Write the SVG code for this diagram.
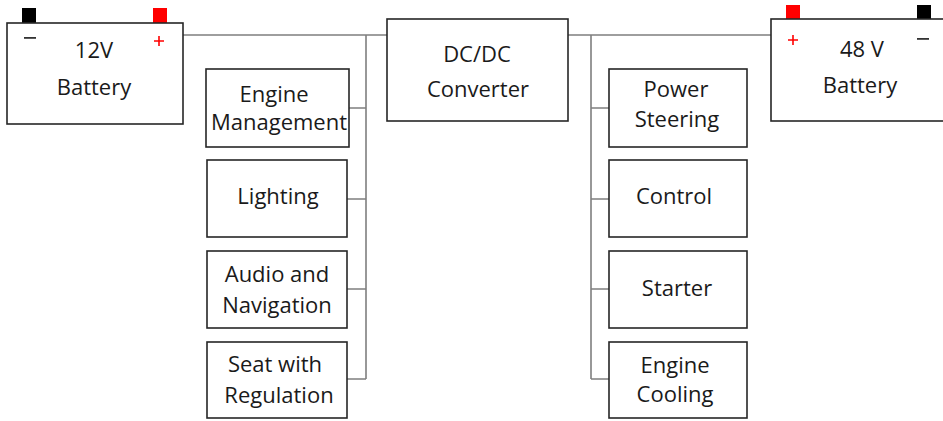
<svg xmlns="http://www.w3.org/2000/svg" width="943" height="421" viewBox="0 0 943 421">
<style>
.box{fill:#fff;stroke:#262626;stroke-width:1.6}
.wire{fill:none;stroke:#7f7f7f;stroke-width:1.6}
text{font-family:"Open Sans","Noto Sans",sans-serif;font-size:22px;fill:#1a1a1a;text-anchor:middle}
.pos{fill:#ff0000}
.neg{fill:#000}
</style>
<rect width="943" height="421" fill="#fff"/>
<g id="connectors">
<path class="wire" d="M183 35 H387 M568 35 H771"/>
<path class="wire" d="M366 35 V379 M349 108 H366 M347 199 H366 M347 289 H366 M347 379 H366"/>
<path class="wire" d="M591 35 V379 M591 108 H609 M591 199 H609 M591 289 H609 M591 379 H609"/>
</g>
<g id="battery12">
<rect class="neg" x="22" y="8" width="14" height="15"/>
<rect class="pos" x="153" y="8" width="14" height="15"/>
<rect class="box" x="7" y="23" width="176" height="101"/>
<rect x="24" y="37" width="12" height="1.8" fill="#333"/>
<path d="M154 41 H164 M159 36 V46" stroke="#ff0000" stroke-width="1.6"/>
<text x="94" y="58">12V</text>
<text x="94" y="95">Battery</text>
</g>
<g id="dcdc">
<rect class="box" x="387" y="19" width="181" height="102"/>
<text x="477" y="62">DC/DC</text>
<text x="478" y="97">Converter</text>
</g>
<g id="battery48">
<rect class="pos" x="786" y="5" width="14" height="14"/>
<rect class="neg" x="917" y="5" width="14" height="14"/>
<rect class="box" x="771" y="19" width="175" height="102"/>
<path d="M788 40 H798 M793 35 V45" stroke="#ff0000" stroke-width="1.6"/>
<rect x="917" y="38" width="12" height="1.8" fill="#333"/>
<text x="862" y="57">48 V</text>
<text x="860" y="93">Battery</text>
</g>
<g id="engine-management">
<rect class="box" x="206" y="69" width="143" height="78"/>
<text x="274" y="102">Engine</text>
<text x="279" y="130">Management</text>
</g>
<g id="lighting">
<rect class="box" x="207" y="160" width="140" height="77"/>
<text x="278" y="204">Lighting</text>
</g>
<g id="audio">
<rect class="box" x="207" y="251" width="140" height="77"/>
<text x="277" y="282">Audio and</text>
<text x="277" y="313">Navigation</text>
</g>
<g id="seat">
<rect class="box" x="207" y="342" width="140" height="76"/>
<text x="275" y="372">Seat with</text>
<text x="279" y="403">Regulation</text>
</g>
<g id="power-steering">
<rect class="box" x="609" y="69" width="138" height="78"/>
<text x="676" y="97">Power</text>
<text x="677" y="127">Steering</text>
</g>
<g id="control">
<rect class="box" x="609" y="160" width="138" height="77"/>
<text x="674" y="204">Control</text>
</g>
<g id="starter">
<rect class="box" x="609" y="251" width="138" height="77"/>
<text x="677" y="296">Starter</text>
</g>
<g id="engine-cooling">
<rect class="box" x="609" y="342" width="138" height="76"/>
<text x="675" y="373">Engine</text>
<text x="675" y="402">Cooling</text>
</g>
</svg>
